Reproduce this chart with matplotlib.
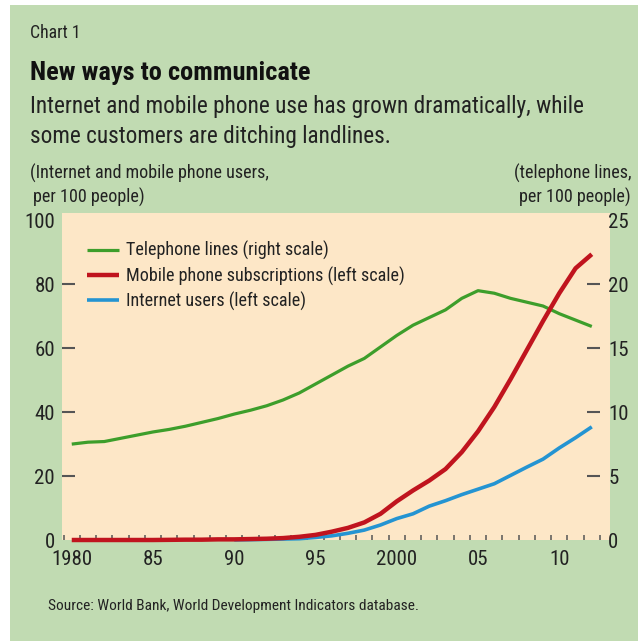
import numpy as np
import matplotlib
matplotlib.use("Agg")
import matplotlib.pyplot as plt
from matplotlib.ticker import FixedLocator

plt.rcParams['font.family'] = ['Roboto Condensed', 'Roboto', 'DejaVu Sans']

# World Bank, World Development Indicators (per 100 people)
years = np.arange(1980, 2013)
telephone_lines = [7.5, 7.65, 7.7, 7.95, 8.2, 8.45, 8.65, 8.9, 9.2, 9.5, 9.85,
                   10.15, 10.5, 10.95, 11.5, 12.2, 12.9, 13.6, 14.2, 15.1, 16.0,
                   16.8, 17.4, 18.0, 18.9, 19.5, 19.3, 18.9, 18.6, 18.3, 17.7,
                   17.2, 16.7]
mobile_subs = [0.0, 0.0, 0.0, 0.0, 0.0, 0.0, 0.05, 0.1, 0.1, 0.2, 0.2,
               0.3, 0.4, 0.6, 1.0, 1.6, 2.6, 3.8, 5.5, 8.2, 12.1,
               15.5, 18.6, 22.2, 27.5, 34.0, 41.6, 50.3, 59.4, 68.5, 77.2,
               85.0, 89.4]
internet_users = [np.nan] * 10 + [0.05, 0.1, 0.2, 0.3, 0.4, 0.8, 1.3, 2.1, 3.1,
                                  4.7, 6.7, 8.2, 10.6, 12.3, 14.2, 15.9, 17.6,
                                  20.2, 22.8, 25.3, 28.8, 32.0, 35.4]

left_ticks = [0, 20, 40, 60, 80, 100]
right_ticks = [0, 5, 10, 15, 20, 25]
x_major = [1980, 1985, 1990, 1995, 2000, 2005, 2010]
x_labels = ["1980", "85", "90", "95", "2000", "05", "10"]

PANEL = "#c1dbb2"
CREAM = "#fde7c7"
GREEN = "#3d9e2b"
RED = "#c0141e"
BLUE = "#2494d2"
TEXT = "#222222"
TICK = "#555555"

W, H = 638, 641
fig = plt.figure(figsize=(W / 100, H / 100), dpi=100, facecolor="white")
fig.patches.append(plt.Rectangle((10 / W, 0), 1, 1 - 5 / H, transform=fig.transFigure,
                                 facecolor=PANEL, edgecolor="none", zorder=-10))

def px(x, y):
    return x / W, 1 - y / H

ax_l, ax_r, ax_t, ax_b = 62, 610, 213, 540
# base axes carries the x axis and the right (telephone lines) scale
base = fig.add_axes([ax_l / W, 1 - ax_b / H, (ax_r - ax_l) / W, (ax_b - ax_t) / H])
ax = base.twinx()

base.patch.set_facecolor(CREAM)
ax.patch.set_visible(False)
ax.set_zorder(base.get_zorder() + 1)

base.set_xlim(1979.4, 2013.12)
ax.set_ylim(1.02, 102.3)
base.set_ylim(1.02 / 4, 102.3 / 4)

l_tel, = base.plot(years, telephone_lines, color=GREEN, lw=2.3, clip_on=False,
                   solid_capstyle="butt")
l_int, = ax.plot(years, internet_users, color=BLUE, lw=2.6, clip_on=False,
                 solid_capstyle="butt")
l_mob, = ax.plot(years, mobile_subs, color=RED, lw=3.2, clip_on=False,
                 solid_capstyle="butt")

for a in (ax, base):
    for s in a.spines.values():
        s.set_visible(False)

# left scale on the twin, right scale on the base
ax.yaxis.tick_left()
base.yaxis.tick_right()
base.spines['right'].set_position(('axes', (600 - ax_l) / (ax_r - ax_l)))

ax.set_yticks(left_ticks)
ax.set_yticklabels([str(t) for t in left_ticks])
base.set_yticks(right_ticks)
base.set_yticklabels([str(t) for t in right_ticks])
ax.tick_params(axis='y', direction='in', length=9.4, width=1.5, color=TICK,
               pad=5.0, labelsize=15, labelcolor=TEXT)
base.tick_params(axis='y', direction='in', length=9.4, width=1.5, color=TICK,
                 pad=6.0, labelsize=15, labelcolor=TEXT)
for a in (ax, base):
    ticks = a.yaxis.get_major_ticks()
    for i in (0, len(ticks) - 1):
        ticks[i].tick1line.set_visible(False)
        ticks[i].tick2line.set_visible(False)

base.set_xticks(x_major)
base.set_xticklabels(x_labels)
base.xaxis.set_minor_locator(FixedLocator(np.arange(1979.5, 2013, 1.0)))
base.tick_params(axis='x', which='major', length=0, pad=7.0, labelsize=15,
                 labelcolor=TEXT)
base.tick_params(axis='x', which='minor', direction='in', length=3.8, width=1.1,
                 color=TICK)

leg = ax.legend([l_tel, l_mob, l_int],
                ["Telephone lines (right scale)",
                 "Mobile phone subscriptions (left scale)",
                 "Internet users (left scale)"],
                loc="upper left",
                bbox_to_anchor=((87 - ax_l) / (ax_r - ax_l), 1 - (241 - ax_t) / (ax_b - ax_t)),
                frameon=False, fontsize=13.1, handlelength=1.76, handletextpad=0.38,
                labelspacing=0.34, borderaxespad=0, borderpad=0)
for t in leg.get_texts():
    t.set_color(TEXT)

fig.text(*px(30, 33), "Chart 1", fontsize=12.8, color=TEXT, va="center")
fig.text(*px(30, 73), "New ways to communicate", fontsize=19, fontweight="bold",
         color="#111111", va="center")
fig.text(*px(30, 107), "Internet and mobile phone use has grown dramatically, while",
         fontsize=16.75, color=TEXT, va="center")
fig.text(*px(30, 137), "some customers are ditching landlines.",
         fontsize=16.75, color=TEXT, va="center")
fig.text(*px(30, 173), "(Internet and mobile phone users,", fontsize=13.1,
         color=TEXT, va="center")
fig.text(*px(33, 197), "per 100 people)", fontsize=13.1, color=TEXT, va="center")
fig.text(*px(631, 173), "(telephone lines,", fontsize=13.1, color=TEXT,
         va="center", ha="right")
fig.text(*px(631, 197), "per 100 people)", fontsize=13.1, color=TEXT,
         va="center", ha="right")
fig.text(*px(48, 606), "Source: World Bank, World Development Indicators database.",
         fontsize=11.1, color=TEXT, va="center")

fig.savefig("out.png", dpi=100, facecolor="white")
